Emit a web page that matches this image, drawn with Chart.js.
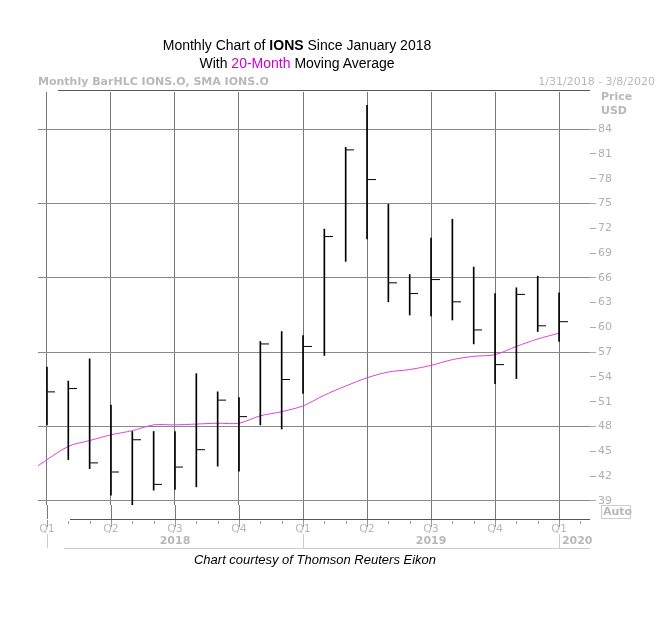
<!DOCTYPE html>
<html><head><meta charset="utf-8">
<script src="https://cdn.jsdelivr.net/npm/chart.js@4"></script>
<style>
body{margin:0;background:#fff;width:664px;height:620px;position:relative;overflow:hidden;font-family:Arial,"Liberation Sans",sans-serif}
#c{position:absolute;left:0;top:0}
.t{position:absolute;width:594px;left:0;text-align:center;font-size:14px;color:#000}
</style></head><body>
<canvas id="c" width="664" height="620"></canvas>
<div class="t" style="top:37px">Monthly Chart of <b>IONS</b> Since January 2018</div>
<div class="t" style="top:55px">With <span style="color:#cc00cc">20-Month</span> Moving Average</div>
<div class="t" style="top:552px;width:630px;font-style:italic;font-size:13px">Chart courtesy of Thomson Reuters Eikon</div>
<script>
const months=[0,1,2,3,4,5,6,7,8,9,10,11,12,13,14,15,16,17,18,19,20,21,22,23,24];
const highs=[55.2,53.5,56.2,50.6,47.4,47.4,47.4,54.4,52.2,51.5,58.3,59.5,59.0,71.9,81.8,86.9,74.9,66.4,70.8,73.1,67.3,64.1,64.8,66.2,64.2];
const lows=[48.2,44.0,42.9,39.7,38.4,40.3,40.4,40.7,43.2,42.6,48.2,47.7,52.0,56.6,68.0,70.7,63.1,61.5,61.4,60.9,58.0,53.2,53.8,59.5,58.3];
const closes=[52.2,52.6,43.6,42.5,46.4,41.0,43.1,45.2,51.2,49.2,58.0,53.7,57.7,71.0,81.5,77.9,65.4,64.1,65.8,63.1,59.7,55.5,64.0,60.2,60.7];
const smaX=[-0.45,1,2,3,4,5,6,7,8,9,10,11,12,13,14,15,16,17,18,19,20,21,22,23,24];
const sma=[43.2,45.6,46.3,47.0,47.5,48.2,48.2,48.3,48.4,48.4,49.3,49.8,50.5,51.8,52.9,53.9,54.6,54.9,55.4,56.1,56.5,56.7,57.7,58.6,59.3];
const qLabels=['Q1','Q2','Q3','Q4','Q1','Q2','Q3','Q4','Q1'];
const years=[{t:'2018',m:6},{t:'2019',m:18},{t:'2020',m:24.85}];

const tick=document.createElement('canvas');tick.width=17;tick.height=3;
const tc=tick.getContext('2d');tc.fillStyle='#000';tc.fillRect(9,1,8,1);

const extra={id:'extra',afterDraw(ch){
 const c=ch.ctx,x=ch.scales.x,a=ch.chartArea;
 c.save();
 c.font='bold 11px Tahoma,"DejaVu Sans",sans-serif';c.fillStyle='#b8b8b8';
 c.textBaseline='middle';c.textAlign='left';
 c.fillText('Monthly BarHLC IONS.O, SMA IONS.O',38,82);
 c.font='11px Tahoma,"DejaVu Sans",sans-serif';c.textAlign='right';
 c.fillText('1/31/2018 - 3/8/2020',655,82);
 c.font='bold 11px Tahoma,"DejaVu Sans",sans-serif';c.textAlign='left';
 c.fillText('Price',601,97);c.fillText('USD',601,111);
 c.strokeStyle='#555';c.lineWidth=1;
 c.beginPath();c.moveTo(58,90.5);c.lineTo(590,90.5);c.stroke();
 c.beginPath();c.moveTo(70,519.5);c.lineTo(590,519.5);c.stroke();
 c.strokeStyle='#777';
 for(let m=0;m<=24;m+=3){const px=Math.round(x.getPixelForValue(m))+0.5;c.beginPath();c.moveTo(px,a.bottom);c.lineTo(px,519);c.stroke();}
 c.strokeStyle='#ccc';
 c.beginPath();c.moveTo(64,548.5);c.lineTo(590,548.5);c.stroke();
 c.strokeStyle='#999';
 for(let m=0;m<=25;m++){const px=Math.round(x.getPixelForValue(m))+0.5;c.beginPath();c.moveTo(px,m%3?521:520);c.lineTo(px,m%3?524:527);c.stroke();}
 c.font='11px Tahoma,"DejaVu Sans",sans-serif';c.fillStyle='#b8b8b8';c.textAlign='center';
 qLabels.forEach((q,i)=>c.fillText(q,x.getPixelForValue(i*3),529));
 c.strokeStyle='#ccc';
 [0,12,24].forEach(m=>{const px=Math.round(x.getPixelForValue(m))+0.5;c.beginPath();c.moveTo(px,534);c.lineTo(px,548);c.stroke();});
 c.font='bold 11px Tahoma,"DejaVu Sans",sans-serif';
 years.forEach(y=>c.fillText(y.t,x.getPixelForValue(y.m),541));
 c.strokeStyle='#ccc';c.strokeRect(601.5,505.5,29,13);
 c.textAlign='left';c.fillText('Auto',603,512);
 c.restore();
}};

new Chart(document.getElementById('c'),{
 data:{datasets:[
  {type:'bar',data:months.map((m,i)=>({x:m,y:[lows[i],highs[i]]})),backgroundColor:'#000',barThickness:1,grouped:false,order:2},
  {type:'scatter',data:months.map((m,i)=>({x:m,y:closes[i]})),pointStyle:tick,pointRadius:8,order:1},
  {type:'line',data:smaX.map((m,i)=>({x:m,y:sma[i]})),borderColor:'#e040e0',borderWidth:1,pointRadius:0,tension:0.3,order:3}
 ]},
 options:{responsive:false,animation:false,devicePixelRatio:1,
  layout:{padding:{left:38,top:92,bottom:115,right:0}},
  plugins:{legend:{display:false},tooltip:{enabled:false}},
  scales:{
   x:{type:'linear',offset:false,min:-0.42,max:25.45,
     ticks:{display:false,stepSize:3},afterBuildTicks(s){s.ticks=[0,3,6,9,12,15,18,21,24].map(v=>({value:v}));},
     afterFit(s){s.height=0;},
     grid:{color:'#777',drawTicks:false,offset:false},border:{display:false}},
   y:{position:'right',min:38.5,max:88.5,
     afterBuildTicks(s){const t=[];for(let v=39;v<=84;v+=3)t.push({value:v});s.ticks=t;},
     afterFit(s){s.width=74;},
     ticks:{color:'#b0b0b0',font:{size:11,family:'Tahoma,"DejaVu Sans",sans-serif'},padding:2},
     grid:{color:c=>((c.tick&&(c.tick.value-39)%9===0)?'#888':'rgba(0,0,0,0)'),tickColor:'#aaa',tickLength:6},
     border:{display:false}}
  }},
 plugins:[extra]
});
</script></body></html>
